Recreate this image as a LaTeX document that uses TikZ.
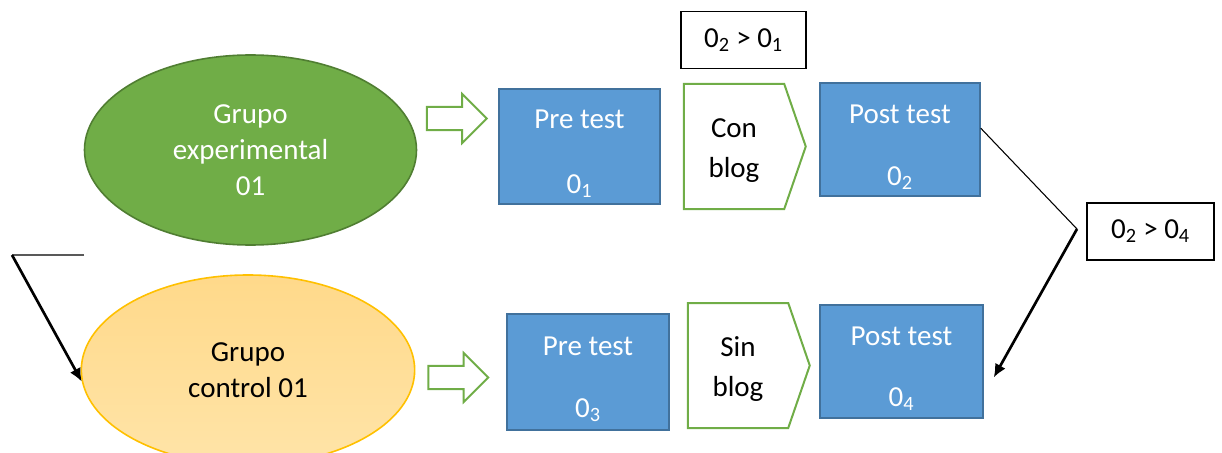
\documentclass[tikz,border=0pt]{standalone}
\usepackage{fontspec}
\setmainfont{Carlito}
\usepackage{tikz}
\usetikzlibrary{shapes.geometric}
\usetikzlibrary{shapes.arrows}
\usetikzlibrary{shapes.symbols}
\usetikzlibrary{arrows.meta}
\definecolor{testblue}{HTML}{5B9BD5}
\definecolor{testedge}{HTML}{41719C}
\definecolor{expgreen}{HTML}{70AD47}
\definecolor{expedge}{HTML}{507E32}
\definecolor{ctrlgold}{HTML}{FFC000}
\definecolor{ctrltop}{HTML}{FFD98A}
\definecolor{ctrlbot}{HTML}{FFE4A8}
\definecolor{leadgray}{HTML}{595959}
\newcommand{\tallfirst}{\rule{0pt}{25pt}}
\newcommand{\blogfirst}{\rule{0pt}{20pt}}
\begin{document}
\begin{tikzpicture}[x=0.75pt,y=-0.75pt,every node/.style={font=\fontsize{21.75}{27}\selectfont,align=center,inner sep=0pt},
  testbox/.style={draw=testedge,fill=testblue,line width=1.1pt,text=white},
  blogsig/.style={signal,signal to=east,signal pointer angle=142,draw=expgreen,fill=white,line width=1.5pt,minimum width=91.5pt,minimum height=93.75pt},
  fatarrow/.style={single arrow,draw=expgreen,fill=white,line width=1.5pt,inner sep=7.9pt,minimum height=45pt,single arrow head extend=9.75pt},
  relbox/.style={draw,line width=1.1pt,minimum width=94pt,minimum height=42.5pt},
  leadarrow/.style={line width=2pt,-{Latex[length=10pt,width=9pt]}}]
  \useasboundingbox (0,0) rectangle (1222,453);
  \node[ellipse,draw=expedge,fill=expgreen,line width=1.2pt,text=white,minimum width=249pt,minimum height=142.5pt] (exp) at (250.5,150) {Grupo\\experimental\\01};
  \node[ellipse,draw=ctrlgold,top color=ctrltop,bottom color=ctrlbot,line width=1.2pt,minimum width=250pt,minimum height=142.5pt] (ctrl) at (248,370) {Grupo\\control 01};
  \node[fatarrow] (a1) at (451,118.5) {};
  \node[fatarrow] (a2) at (452.5,377.5) {};
  \node[testbox,minimum width=120.75pt,minimum height=86.25pt] (pre1) at (579.5,146.5) {\tallfirst Pre test\\[21.75pt]0\textsubscript{1}};
  \node[blogsig] (con) at (734,146.5) {\blogfirst Con\\[2.5pt]blog};
  \node[testbox,minimum width=120pt,minimum height=84.75pt] (post1) at (900,139.5) {\tallfirst Post test\\[19.5pt]0\textsubscript{2}};
  \node[relbox] (r21) at (743.5,40) {0\textsubscript{2} > 0\textsubscript{1}};
  \node[testbox,minimum width=121.5pt,minimum height=87pt] (pre2) at (588,372) {\tallfirst Pre test\\[19.5pt]0\textsubscript{3}};
  \node[blogsig] (sin) at (738,365.5) {\blogfirst Sin\\[2.5pt]blog};
  \node[testbox,minimum width=122.25pt,minimum height=84.75pt] (post2) at (901.5,361.5) {\tallfirst Post test\\[19pt]0\textsubscript{4}};
  \node[relbox,minimum width=95.25pt] (r24) at (1150.5,231.5) {0\textsubscript{2} > 0\textsubscript{4}};
  \coordinate (lbend) at (12,255);
  \coordinate (lstart) at (84,255);
  \coordinate (rbend) at (1077,229);
  \draw[leadgray,line width=2.2pt] (lstart)--(lbend);
  \draw[leadarrow] (lbend)--(ctrl.184);
  \draw[line width=0.8pt] ([yshift=8.5pt]post1.east)--(rbend);
  \draw[leadarrow] (rbend)--([xshift=7.5pt,yshift=-12pt]post2.east);
\end{tikzpicture}
\end{document}
